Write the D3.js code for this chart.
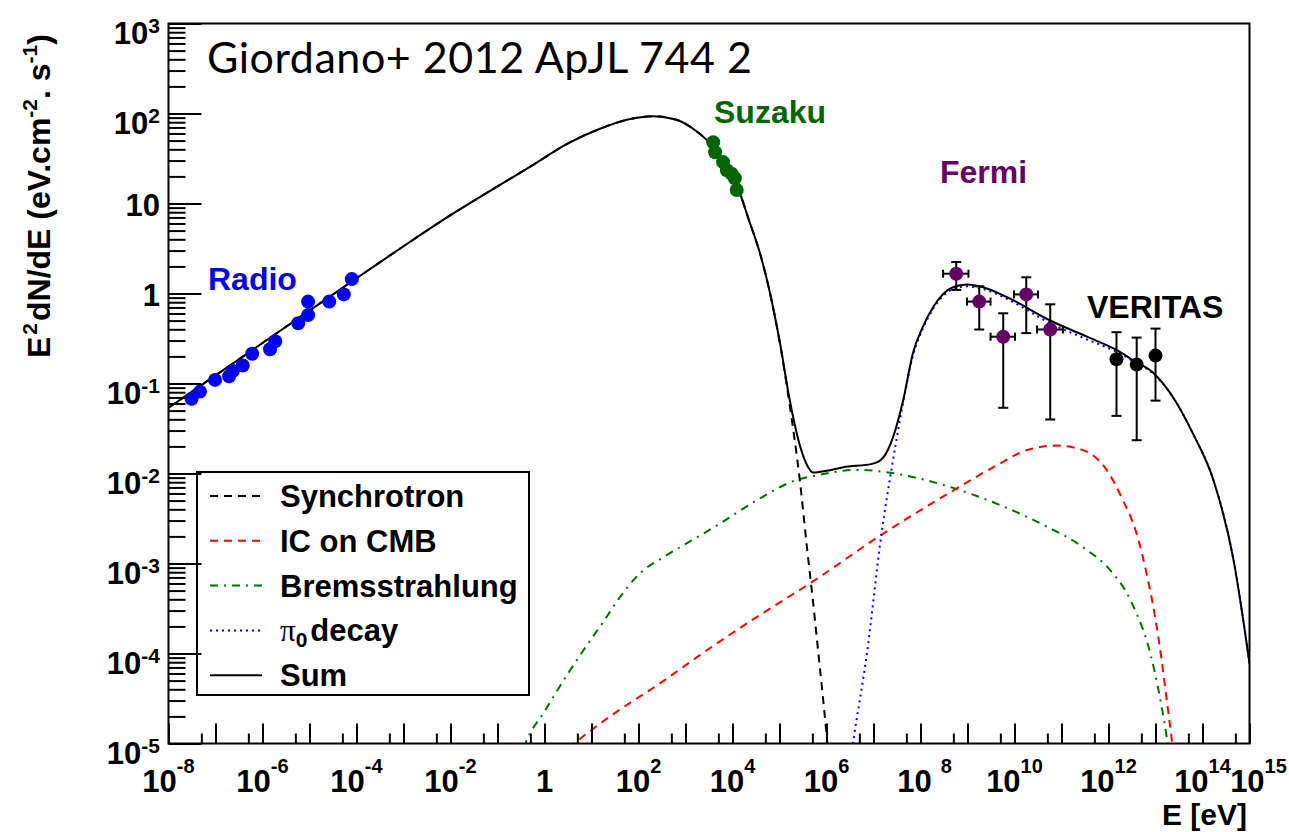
<!DOCTYPE html>
<html>
<head>
<meta charset="utf-8">
<script src="https://cdn.jsdelivr.net/npm/d3@7"></script>
<style>
  body { margin: 0; background: #fff; }
  svg { display: block; font-family: "Liberation Sans", Arial, Helvetica, sans-serif; }
</style>
</head>
<body>
<svg id="chart" width="1289" height="832"></svg>
<script>
// values, stored as [log10(E / eV), log10(E^2 dN/dE)]
const sumCurve = [[-8.0,-1.27],[-7.0,-0.91],[-6.0,-0.55],[-5.0,-0.19],[-4.0,0.17],[-3.0,0.525],[-2.0,0.87],
    [-1.0,1.19],[-0.24,1.43],[0.47,1.66],[1.18,1.83],[1.75,1.93],[2.32,1.97],[2.81,1.93],[3.24,1.80],
    [3.59,1.63],[3.9,1.38],[4.16,1.11],[4.34,0.83],[4.6,0.42],[4.8,0.0],[5.0,-0.52],[5.22,-1.19],
    [5.44,-1.70],[5.61,-1.93],[5.72,-1.99],[6.0,-1.97],[6.36,-1.93],[6.99,-1.89],[7.21,-1.82],
    [7.42,-1.59],[7.63,-1.19],[7.84,-0.66],[8.05,-0.37],[8.27,-0.15],[8.69,0.07],[8.99,0.10],
    [9.33,0.07],[9.84,-0.04],[10.76,-0.30],[11.54,-0.48],[12.18,-0.63],[12.52,-0.74],[12.95,-0.88],
    [13.37,-1.15],[13.80,-1.56],[14.23,-2.07],[14.66,-2.96],[15.0,-4.11]];

const synchrotron = [[-8.0,-1.27],[-7.0,-0.91],[-6.0,-0.55],[-5.0,-0.19],[-4.0,0.17],[-3.0,0.525],[-2.0,0.87],
    [-1.0,1.19],[-0.24,1.43],[0.47,1.66],[1.18,1.83],[1.75,1.93],[2.32,1.97],[2.81,1.93],[3.24,1.80],
    [3.59,1.63],[3.9,1.38],[4.16,1.11],[4.34,0.83],[4.6,0.42],[4.8,0.0],[5.0,-0.53],[5.22,-1.25],
    [5.44,-2.11],[5.59,-2.85],[5.71,-3.41],[5.82,-3.96],[5.93,-4.52],[6.02,-5.0],[6.1,-5.45]];

const icCmb = [[0.5,-5.05],[1.39,-4.70],[2.46,-4.33],[3.52,-3.94],[4.59,-3.57],[5.65,-3.22],[7.20,-2.67],
    [8.63,-2.21],[9.69,-1.89],[10.26,-1.74],[10.90,-1.69],[11.46,-1.74],[11.96,-1.96],[12.31,-2.30],
    [12.60,-2.67],[12.81,-3.11],[12.99,-3.59],[13.13,-4.07],[13.24,-4.52],[13.34,-4.93],[13.4,-5.2]];

const bremsstrahlung = [[-0.45,-5.05],[-0.31,-4.89],[-0.03,-4.67],[0.19,-4.48],[0.54,-4.19],[0.90,-3.91],
    [1.25,-3.65],[1.61,-3.37],[2.03,-3.11],[2.53,-2.93],[2.95,-2.80],[3.66,-2.58],[4.51,-2.30],
    [5.37,-2.07],[5.80,-2.02],[6.65,-1.96],[7.20,-1.98],[7.93,-2.05],[8.63,-2.15],[9.69,-2.35],
    [10.61,-2.57],[11.46,-2.82],[12.03,-3.07],[12.39,-3.33],[12.60,-3.56],[12.81,-3.85],[12.99,-4.22],
    [13.13,-4.59],[13.24,-4.93],[13.3,-5.15]];

const pionDecay = [[6.45,-5.4],[6.57,-4.97],[6.86,-4.0],[7.17,-2.67],[7.39,-1.93],[7.60,-1.30],[7.84,-0.69],
    [8.05,-0.39],[8.27,-0.17],[8.69,0.05],[8.99,0.08],[9.33,0.05],[9.84,-0.06],[10.76,-0.33],
    [11.54,-0.51],[12.18,-0.65],[12.52,-0.75],[12.95,-0.89],[13.37,-1.15],[13.80,-1.56],[14.23,-2.07],
    [14.66,-2.96],[15.0,-4.11]];

// data points
const radio = [[-7.51,-1.17],[-7.33,-1.09],[-7.01,-0.96],[-6.71,-0.92],[-6.63,-0.86],[-6.42,-0.80],
    [-6.22,-0.67],[-5.84,-0.62],[-5.73,-0.53],[-5.24,-0.33],[-5.03,-0.24],[-5.03,-0.09],[-4.58,-0.09],
    [-4.27,-0.01],[-4.10,0.16]];
const suzaku = [[3.59,1.68],[3.63,1.57],[3.80,1.46],[3.88,1.37],[3.98,1.33],[4.05,1.28],[4.09,1.15]];
// [logE, logF, logF low, logF high, logE low, logE high]
const fermi = [[8.76,0.22,0.04,0.35,8.48,9.02],[9.25,-0.09,-0.40,0.08,8.99,9.49],
    [9.76,-0.48,-1.27,-0.22,9.49,10.01],[10.25,-0.01,-0.44,0.18,9.99,10.50],
    [10.76,-0.40,-1.40,-0.12,10.48,11.03]];
// [logE, logF, logF low, logF high]
const veritas = [[12.17,-0.73,-1.36,-0.43],[12.60,-0.79,-1.63,-0.49],[13.00,-0.69,-1.19,-0.39]];

// tick labels (decade exponents)
const xLabelExps = [-8, -6, -4, -2, 0, 2, 4, 6, 8, 10, 12, 14, 15];
const yLabelExps = [3, 2, 1, 0, -1, -2, -3, -4, -5];

const legendItems = [
    { name: "Synchrotron", color: "#000", dash: "8,6" },
    { name: "IC on CMB", color: "#ff0000", dash: "8,6" },
    { name: "Bremsstrahlung", color: "#007000", dash: "8,6,2,6" },
    { name: "decay", color: "#0000ff", dash: "2,4", pi: true },
    { name: "Sum", color: "#000", dash: null }
];

const svg = d3.select("#chart");
const plotL = 168.5, plotR = 1249.5, plotT = 23.5, plotB = 743.5;

const x = d3.scaleLog().domain([1e-8, 1e15]).range([plotL, plotR]);
const y = d3.scaleLog().domain([1e-5, 1e3]).range([plotB, plotT]);
const px = d => x(Math.pow(10, d));
const py = d => y(Math.pow(10, d));

svg.append("clipPath").attr("id", "plotClip")
    .append("rect").attr("x", plotL).attr("y", plotT)
    .attr("width", plotR - plotL).attr("height", plotB - plotT);

// model curves
const line = d3.line().x(d => px(d[0])).y(d => py(d[1])).curve(d3.curveMonotoneX);
const cg = svg.append("g").attr("clip-path", "url(#plotClip)").attr("fill", "none");

cg.append("path").attr("d", line(bremsstrahlung))
    .attr("stroke", "#007000").attr("stroke-width", 2).attr("stroke-dasharray", "8,6,2,6");
cg.append("path").attr("d", line(icCmb))
    .attr("stroke", "#ff0000").attr("stroke-width", 2).attr("stroke-dasharray", "8,6");
cg.append("path").attr("d", line(synchrotron))
    .attr("stroke", "#000").attr("stroke-width", 2).attr("stroke-dasharray", "8,6");
cg.append("path").attr("d", line(pionDecay))
    .attr("stroke", "#0000ff").attr("stroke-width", 2).attr("stroke-dasharray", "2,4");
cg.append("path").attr("d", line(sumCurve))
    .attr("stroke", "#000").attr("stroke-width", 2);

// error bars
const eb = svg.append("g").attr("stroke", "#000").attr("stroke-width", 2);
fermi.concat(veritas).forEach(d => {
    eb.append("line").attr("x1", px(d[0])).attr("x2", px(d[0])).attr("y1", py(d[2])).attr("y2", py(d[3]));
    eb.append("line").attr("x1", px(d[0]) - 5).attr("x2", px(d[0]) + 5).attr("y1", py(d[2])).attr("y2", py(d[2]));
    eb.append("line").attr("x1", px(d[0]) - 5).attr("x2", px(d[0]) + 5).attr("y1", py(d[3])).attr("y2", py(d[3]));
    if (d.length > 4) {
        eb.append("line").attr("x1", px(d[4])).attr("x2", px(d[5])).attr("y1", py(d[1])).attr("y2", py(d[1]));
        eb.append("line").attr("x1", px(d[4])).attr("x2", px(d[4])).attr("y1", py(d[1]) - 4).attr("y2", py(d[1]) + 4);
        eb.append("line").attr("x1", px(d[5])).attr("x2", px(d[5])).attr("y1", py(d[1]) - 4).attr("y2", py(d[1]) + 4);
    }
});

// markers
function dots(data, color) {
    svg.append("g").selectAll("circle").data(data).enter().append("circle")
        .attr("cx", d => px(d[0])).attr("cy", d => py(d[1])).attr("r", 7).attr("fill", color);
}
dots(radio, "#0000ff");
dots(suzaku, "#006600");
dots(fermi, "#660066");
dots(veritas, "#000");

// instrument labels
const labels = [
    { t: "Radio", x: 208, y: 290, c: "#0000ff" },
    { t: "Suzaku", x: 714, y: 123, c: "#006600" },
    { t: "Fermi", x: 940, y: 183, c: "#660066" },
    { t: "VERITAS", x: 1087, y: 318, c: "#000" }
];
svg.append("g").selectAll("text").data(labels).enter().append("text")
    .attr("x", d => d.x).attr("y", d => d.y).attr("fill", d => d.c)
    .attr("font-size", 32).attr("font-weight", "bold").text(d => d.t);

// legend
const lg = svg.append("g");
lg.append("rect").attr("x", 197).attr("y", 472).attr("width", 332).attr("height", 223)
    .attr("fill", "#fff").attr("stroke", "#000").attr("stroke-width", 2);
legendItems.forEach((d, i) => {
    const yb = 507 + i * 44.8;
    lg.append("line").attr("x1", 210).attr("x2", 262).attr("y1", yb - 11).attr("y2", yb - 11)
        .attr("stroke", d.color).attr("stroke-width", 2).attr("stroke-dasharray", d.dash);
    const t = lg.append("text").attr("x", 280).attr("y", yb).attr("font-size", 31).attr("font-weight", "bold");
    if (d.pi) {
        t.append("tspan").attr("font-weight", "normal").attr("font-family", "Liberation Serif").text("π");
        t.append("tspan").attr("font-size", 21).attr("dy", 6).text("0");
        t.append("tspan").attr("dy", -6).attr("dx", 3).text(d.name);
    } else {
        t.text(d.name);
    }
});

// axes: ticks pointing into the frame
const xMajor = d3.range(-8, 16).map(e => Math.pow(10, e));
const xMinor = d3.range(-8, 15).map(e => 5 * Math.pow(10, e));
const yMajor = d3.range(-5, 4).map(e => Math.pow(10, e));
const yMinor = [];
d3.range(-5, 3).forEach(e => d3.range(2, 10).forEach(m => yMinor.push(m * Math.pow(10, e))));

const axisStyle = g => {
    g.selectAll("line").attr("stroke", "#000").attr("stroke-width", 2);
    g.select(".domain").remove();
};
svg.append("g").attr("transform", `translate(0,${plotB})`)
    .call(d3.axisBottom(x).tickValues(xMajor).tickSize(-20).tickFormat("")).call(axisStyle);
svg.append("g").attr("transform", `translate(0,${plotB})`)
    .call(d3.axisBottom(x).tickValues(xMinor).tickSize(-10).tickFormat("")).call(axisStyle);
svg.append("g").attr("transform", `translate(${plotL},0)`)
    .call(d3.axisLeft(y).tickValues(yMajor).tickSize(-33).tickFormat("")).call(axisStyle);
svg.append("g").attr("transform", `translate(${plotL},0)`)
    .call(d3.axisLeft(y).tickValues(yMinor).tickSize(-17).tickFormat("")).call(axisStyle);

svg.append("rect").attr("x", plotL).attr("y", plotT).attr("width", plotR - plotL).attr("height", plotB - plotT)
    .attr("fill", "none").attr("stroke", "#000").attr("stroke-width", 2);

// tick labels with superscript exponents
function powLabel(t, e, supSize, raise, gap) {
    if (e === 0) { t.text("1"); return; }
    t.append("tspan").text("10");
    if (e === 1) return;
    t.append("tspan").attr("font-size", supSize).attr("dy", -raise).attr("dx", gap).text(e);
}

xLabelExps.forEach(e => {
    const t = svg.append("text").attr("x", x(Math.pow(10, e)) + (e === 15 ? 9 : 0) + (e === 8 ? 4 : 0))
        .attr("y", 792).attr("text-anchor", "middle").attr("font-size", 31).attr("font-weight", "bold");
    powLabel(t, e, 20, 19, e === 8 ? 9 : 0);
});
yLabelExps.forEach(e => {
    const plain = e === 0 || e === 1;
    const t = svg.append("text").attr("x", 160).attr("y", y(Math.pow(10, e)) + (plain ? 12 : 20))
        .attr("text-anchor", "end").attr("font-size", 31).attr("font-weight", "bold");
    powLabel(t, e, 21, 11, 0);
});

// axis titles
svg.append("text").attr("x", 1247).attr("y", 825).attr("text-anchor", "end")
    .attr("font-size", 30).attr("font-weight", "bold").text("E [eV]");

const yt = svg.append("text").attr("transform", "translate(50,358) rotate(-90)")
    .attr("font-size", 32).attr("font-weight", "bold");
yt.append("tspan").text("E");
yt.append("tspan").attr("font-size", 21).attr("dy", -13).attr("dx", 2).text("2");
yt.append("tspan").attr("dy", 13).attr("dx", 2).text("dN/dE (eV.cm");
yt.append("tspan").attr("font-size", 21).attr("dy", -13).text("-2");
yt.append("tspan").attr("dy", 13).text(". s");
yt.append("tspan").attr("font-size", 21).attr("dy", -13).text("-1");
yt.append("tspan").attr("dy", 13).text(")");

// paper reference
svg.append("text").attr("x", 207).attr("y", 73).attr("font-family", "Lato")
    .attr("font-size", 43).attr("textLength", 545).attr("lengthAdjust", "spacing")
    .text("Giordano+ 2012 ApJL 744 2");
</script>
</body>
</html>
